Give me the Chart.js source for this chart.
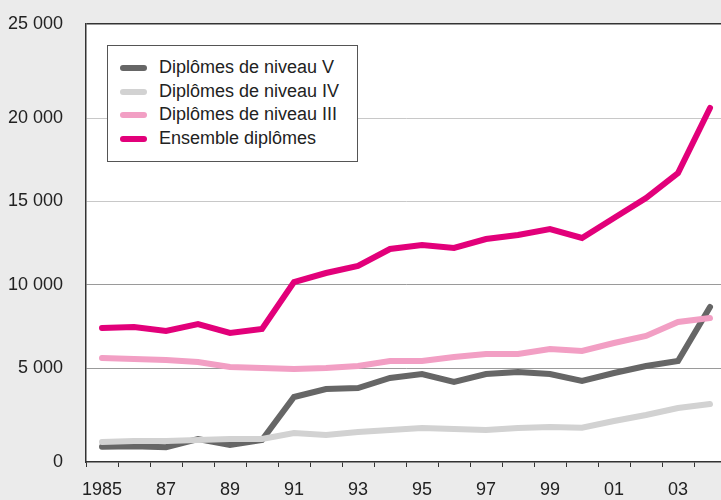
<!DOCTYPE html>
<html>
<head>
<meta charset="utf-8">
<script src="https://cdn.jsdelivr.net/npm/chart.js@4.4.1/dist/chart.umd.min.js"></script>
<style>
  html, body { margin: 0; padding: 0; background: #ebebeb; overflow: hidden; }
  #wrap { position: relative; width: 730px; height: 500px; }
  #legend {
    position: absolute; left: 107px; top: 45px; width: 249px; height: 115px;
    background: #fff; border: 1px solid #555;
    font-family: 'Liberation Sans', Arial, sans-serif;
    font-size: 18px; color: #222;
  }
  #legend ul { list-style: none; margin: 0; padding: 10px 0 0 0; }
  #legend li { height: 23.5px; line-height: 23.5px; position: relative; padding-left: 51px; white-space: nowrap; }
  #legend li span {
    position: absolute; left: 12px; top: 9px; width: 27px; height: 6px; border-radius: 3px;
  }
</style>
</head>
<body>
<div id="wrap">
  <canvas id="chart" width="730" height="500"></canvas>
  <div id="legend"></div>
</div>
<script>
// données
const years = ['1985','1986','1987','1988','1989','1990','1991','1992','1993','1994',
               '1995','1996','1997','1998','1999','2000','2001','2002','2003','2004'];
const xTickLabels = ['1985','','87','','89','','91','','93','','95','','97','','99','','01','','03',''];

const niveauV  = [280, 300, 250, 740, 380, 680, 3260, 3740, 3800, 4400,
                  4640, 4160, 4640, 4760, 4640, 4220, 4700, 5120, 5420, 8660];
const niveauIV = [560, 620, 620, 680, 740, 740, 1100, 980, 1160, 1280,
                  1400, 1340, 1280, 1400, 1460, 1420, 1820, 2180, 2600, 2840];
const niveauIII = [5600, 5540, 5480, 5360, 5060, 5000, 4940, 5000, 5120, 5420,
                   5420, 5660, 5840, 5840, 6140, 6020, 6500, 6920, 7760, 8000];
const ensemble = [7400, 7460, 7220, 7640, 7100, 7340, 10160, 10700, 11120, 12140,
                  12380, 12200, 12740, 12980, 13340, 12800, 14000, 15200, 16700, 20600];

const seriesNames = ['Diplômes de niveau V', 'Diplômes de niveau IV', 'Diplômes de niveau III', 'Ensemble diplômes'];
const seriesColors = ['#666666', '#d2d2d2', '#f29fc4', '#e2007a'];

// l'axe du graphique d'origine déborde un peu sous 0 et au-dessus de 25 000
const yMin = -640;
const yMax = 25640;
const yTickValues = [yMin, 5000, 10000, 15000, 20000, yMax];
const yTickLabels = ['0', '5 000', '10 000', '15 000', '20 000', '25 000'];

const FONT = "'Liberation Sans', Arial, sans-serif";

const plotBackground = {
    id: 'plotBackground',
    beforeDraw(chart) {
        const { ctx, chartArea: a } = chart;
        ctx.save();
        ctx.fillStyle = '#ffffff';
        ctx.fillRect(a.left, a.top, a.right - a.left, a.bottom - a.top);
        ctx.restore();
    }
};

const allSeries = [niveauV, niveauIV, niveauIII, ensemble];

const chart = new Chart(document.getElementById('chart'), {
    type: 'line',
    data: {
        labels: years,
        datasets: allSeries.map((d, i) => ({
            label: seriesNames[i],
            data: d,
            borderColor: seriesColors[i],
            backgroundColor: seriesColors[i],
            borderWidth: 6,
            pointRadius: 0,
            tension: 0,
            fill: false,
            borderCapStyle: 'round',
            borderJoinStyle: 'miter',
            order: 4 - i
        }))
    },
    options: {
        responsive: false,
        animation: false,
        layout: { padding: { top: 24, right: 4, left: 0, bottom: 0 } },
        plugins: { legend: { display: false }, tooltip: { enabled: false } },
        scales: {
            x: {
                offset: true,
                grid: {
                    offset: true, drawOnChartArea: false, drawTicks: true,
                    tickLength: 5, color: '#333'
                },
                border: { display: true, color: '#333', width: 1.5 },
                ticks: {
                    autoSkip: false, maxRotation: 0, padding: 12, color: '#222',
                    font: { family: FONT, size: 18 },
                    callback: (v, i) => xTickLabels[i]
                },
                afterFit(scale) { scale.height = 38; }
            },
            y: {
                min: yMin,
                max: yMax,
                afterBuildTicks(scale) {
                    scale.ticks = yTickValues.map(v => ({ value: v }));
                },
                grid: {
                    drawTicks: false,
                    color: ctx => {
                        const v = ctx.tick ? ctx.tick.value : 0;
                        if (v === yMin) return 'rgba(0,0,0,0)';
                        if (v === yMax) return '#333';
                        return v <= 10000 ? '#9a9a9a' : '#c8c8c8';
                    },
                    lineWidth: ctx => (ctx.tick && ctx.tick.value === yMax) ? 1.5 : 1
                },
                border: { display: true, color: '#333', width: 1.5 },
                ticks: {
                    padding: 23, color: '#222',
                    font: { family: FONT, size: 18 },
                    callback: (v, i) => yTickLabels[i]
                },
                afterFit(scale) {
                    scale.width = 86;
                    scale.paddingTop = 0;
                    scale.paddingBottom = 0;
                }
            }
        }
    },
    plugins: [plotBackground]
});

// légende dans le cadre, construite depuis les jeux de données
const legendList = document.createElement('ul');
chart.data.datasets.forEach(ds => {
    const li = document.createElement('li');
    const sw = document.createElement('span');
    sw.style.background = ds.borderColor;
    li.appendChild(sw);
    li.appendChild(document.createTextNode(ds.label));
    legendList.appendChild(li);
});
document.getElementById('legend').appendChild(legendList);
</script>
</body>
</html>
